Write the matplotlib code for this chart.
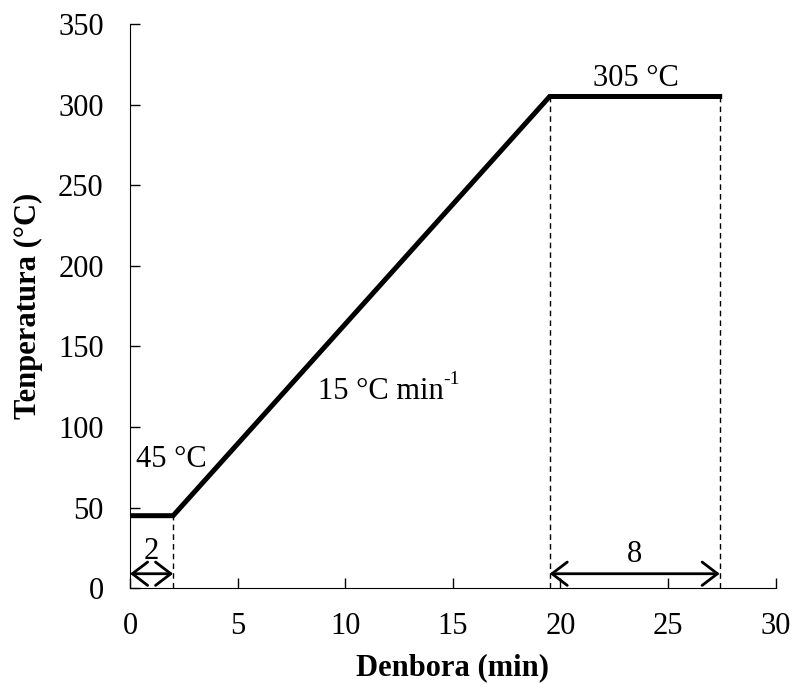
import matplotlib.pyplot as plt

plt.rcParams['font.family'] = 'Liberation Serif'

# temperature program
tiempo = [0, 2, 19.5, 27.4]
temp = [45, 45, 305, 305]

fig = plt.figure(figsize=(7.98, 6.84), dpi=100)
ax = fig.add_axes([0.163, 0.140, 0.809, 0.825])

ax.plot(tiempo, temp, color='black', lw=3.6, solid_joinstyle='miter')

# dashed guides
for t, y in zip(tiempo[1:], temp[1:]):
    ax.plot([t, t], [0, y], color='black', lw=1, ls=(0, (4, 3)))

# double arrows
estilo = '<->, head_length=0.55, head_width=0.42'
ax.annotate('', xy=(0, 9), xytext=(tiempo[1], 9),
            arrowprops=dict(arrowstyle=estilo, lw=2, color='black',
                            mutation_scale=20, shrinkA=0, shrinkB=0))
ax.annotate('', xy=(tiempo[2], 9), xytext=(tiempo[3], 9),
            arrowprops=dict(arrowstyle=estilo, lw=2, color='black',
                            mutation_scale=20, shrinkA=0, shrinkB=0))

fs = 22
ax.text(1.0, 23, '2', ha='center', va='center', fontsize=fs)
ax.text((tiempo[2] + tiempo[3]) / 2, 21, '8', ha='center', va='center', fontsize=fs)
ax.text(1.93, 80, '45 °C', ha='center', va='center', fontsize=fs)
ax.text(23.5, 316, '305 °C', ha='center', va='center', fontsize=fs)
t15 = ax.text(8.73, 122, '15 °C min', ha='left', va='center', fontsize=fs)
ax.annotate('-1', xy=(1, 0.62), xycoords=t15, ha='left', va='bottom',
            fontsize=14)

ax.set_xlim(0, 30)
ax.set_ylim(0, 350)
ax.set_xticks(range(0, 31, 5))
ax.set_yticks(range(0, 351, 50))
ax.tick_params(axis='both', direction='in', labelsize=fs, length=7, width=1)
ax.tick_params(axis='y', pad=19)
ax.tick_params(axis='x', pad=17)
ax.spines['top'].set_visible(False)
ax.spines['right'].set_visible(False)
ax.set_xlabel('Denbora (min)', fontsize=fs, fontweight='bold', labelpad=9)
ax.set_ylabel('Tenperatura (°C)', fontsize=fs, fontweight='bold', labelpad=11)

plt.savefig('out.png', dpi=100)
